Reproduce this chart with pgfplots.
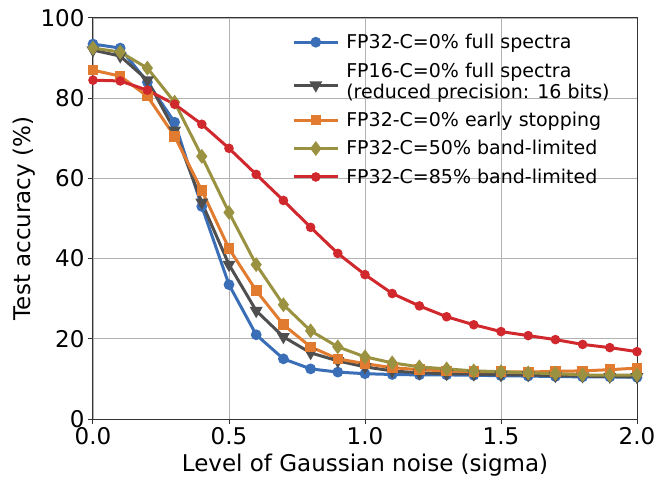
\documentclass[border=0pt]{standalone}
\usepackage{pgfplots}
\pgfplotsset{compat=1.18}
\usepackage{fontspec}
\setmainfont{DejaVu Sans}
\definecolor{cblue}{HTML}{3A6FB8}
\definecolor{cgray}{HTML}{4F4F4F}
\definecolor{corange}{HTML}{E07B30}
\definecolor{colive}{HTML}{9A9240}
\definecolor{cred}{HTML}{D0282C}
\begin{document}
\begin{tikzpicture}
\begin{axis}[
  width=544pt, height=401pt, scale only axis,
  xmin=0, xmax=2, ymin=0, ymax=100,
  xtick={0,0.5,1,1.5,2},
  xticklabels={0.0,0.5,1.0,1.5,2.0},
  ytick={0,20,40,60,80,100},
  /pgf/number format/assume math mode=true,
  tick label style={font=\fontsize{23}{26}\selectfont},
  xlabel={Level of Gaussian noise (sigma)},
  ylabel={Test accuracy (\%)},
  label style={font=\fontsize{23}{26}\selectfont},
  xlabel style={yshift=-2pt},
  ylabel style={yshift=-2pt},
  grid=major,
  major grid style={color=black!30, line width=0.9pt},
  axis line style={color=black!80, line width=1pt},
  tick style={color=black!80, line width=1pt},
  tick align=outside,
  major tick length=5pt,
  xtick pos=bottom, ytick pos=left,
  legend style={at={(0.366,0.965)}, anchor=north west, draw=none, fill=none,
    inner sep=0pt,
    font=\fontsize{19}{21}\selectfont, row sep=8.5pt,
    legend cell align=left, align=left,
    /tikz/every odd column/.append style={column sep=5pt}},
  legend image code/.code={
    \draw[mark repeat=2,mark phase=2] plot coordinates {(0pt,0pt) (22pt,0pt) (44pt,0pt)};},
  every axis plot/.append style={line width=3pt, mark options={solid}},
  clip=false,
]
\coordinate (bl) at (rel axis cs:0,0);
\coordinate (tr) at (rel axis cs:1,1);
\addplot[color=cblue, mark=*, mark size=3.8pt] coordinates {
(0,93.5)(0.1,92.5)(0.2,84)(0.3,74)(0.4,53)(0.5,33.5)(0.6,21)(0.7,15)(0.8,12.5)(0.9,11.7)(1.0,11.3)(1.1,11.1)(1.2,11)(1.3,11)(1.4,10.9)(1.5,10.8)(1.6,10.7)(1.7,10.6)(1.8,10.5)(1.9,10.5)(2.0,10.4)};
\addlegendentry{FP32-C=0\% full spectra}
\addplot[color=cgray, mark=triangle*, mark size=4.5pt, mark options={rotate=180}, legend image post style={yshift=-4pt}] coordinates {
(0,92)(0.1,90.5)(0.2,84.5)(0.3,72)(0.4,54)(0.5,38.5)(0.6,27)(0.7,20.5)(0.8,16.5)(0.9,14.5)(1.0,13)(1.1,12)(1.2,11.5)(1.3,11.3)(1.4,11.2)(1.5,11)(1.6,11)(1.7,10.8)(1.8,10.7)(1.9,10.6)(2.0,10.5)};
\addlegendentry{FP16-C=0\% full spectra\\(reduced precision: 16 bits)}
\addplot[color=corange, mark=square*, mark size=3.8pt] coordinates {
(0,87)(0.1,85.5)(0.2,80.5)(0.3,70.5)(0.4,57)(0.5,42.5)(0.6,32)(0.7,23.5)(0.8,18)(0.9,15)(1.0,13.8)(1.1,12.8)(1.2,12.3)(1.3,12)(1.4,11.8)(1.5,11.8)(1.6,11.7)(1.7,11.9)(1.8,12)(1.9,12.3)(2.0,12.7)};
\addlegendentry{FP32-C=0\% early stopping}
\addplot[color=colive, mark=diamond*, mark size=5pt] coordinates {
(0,92.5)(0.1,91.5)(0.2,87.5)(0.3,79)(0.4,65.5)(0.5,51.5)(0.6,38.5)(0.7,28.5)(0.8,22)(0.9,18)(1.0,15.5)(1.1,14)(1.2,13)(1.3,12.5)(1.4,12)(1.5,11.8)(1.6,11.5)(1.7,11.3)(1.8,11)(1.9,10.9)(2.0,11)};
\addlegendentry{FP32-C=50\% band-limited}
\addplot[color=cred, mark=*, mark size=3.2pt] coordinates {
(0,84.5)(0.1,84.3)(0.2,82)(0.3,78.5)(0.4,73.5)(0.5,67.5)(0.6,61)(0.7,54.5)(0.8,47.8)(0.9,41.3)(1.0,36)(1.1,31.3)(1.2,28.2)(1.3,25.5)(1.4,23.5)(1.5,21.8)(1.6,20.8)(1.7,19.8)(1.8,18.6)(1.9,17.8)(2.0,16.8)};
\addlegendentry{FP32-C=85\% band-limited}
\end{axis}
\path ([shift={(-93pt,-69pt)}]bl) rectangle ([shift={(28pt,18pt)}]tr);
\end{tikzpicture}
\end{document}
